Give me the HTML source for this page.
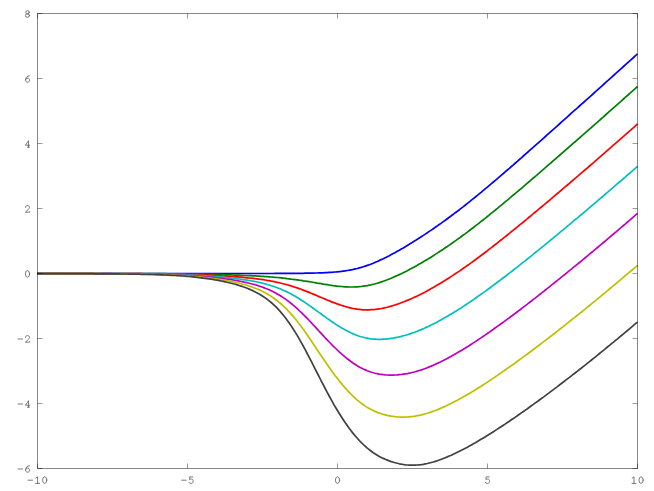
<!DOCTYPE html>
<html><head><meta charset="utf-8"><title>plot</title>
<style>
html,body{margin:0;padding:0;background:#fff;}
svg{display:block;}
</style></head>
<body>
<svg width="654" height="491" viewBox="0 0 654 491">
<rect width="654" height="491" fill="#fff"/>
<defs><clipPath id="cp"><rect x="37" y="13" width="601" height="456"/></clipPath></defs>
<g fill="none" stroke-width="1.7" stroke-linejoin="round" clip-path="url(#cp)">
<path d="M37.0 273.5 L39.0 273.5 L41.0 273.5 L43.0 273.5 L45.0 273.5 L47.0 273.5 L49.0 273.5 L51.0 273.5 L53.0 273.5 L55.0 273.5 L57.0 273.5 L59.0 273.5 L61.0 273.5 L63.0 273.5 L65.0 273.5 L67.0 273.5 L69.0 273.5 L71.0 273.5 L73.0 273.5 L75.0 273.5 L77.0 273.5 L79.0 273.5 L81.0 273.5 L83.0 273.5 L85.0 273.5 L87.0 273.5 L89.0 273.5 L91.0 273.5 L93.0 273.5 L95.0 273.5 L97.1 273.5 L99.1 273.5 L101.1 273.5 L103.1 273.5 L105.1 273.5 L107.1 273.5 L109.1 273.5 L111.1 273.5 L113.1 273.5 L115.1 273.5 L117.1 273.5 L119.1 273.5 L121.1 273.5 L123.1 273.5 L125.1 273.5 L127.1 273.5 L129.1 273.5 L131.1 273.5 L133.1 273.5 L135.1 273.5 L137.1 273.5 L139.1 273.5 L141.1 273.5 L143.1 273.5 L145.1 273.5 L147.1 273.5 L149.1 273.5 L151.1 273.5 L153.1 273.5 L155.1 273.5 L157.1 273.5 L159.1 273.5 L161.1 273.5 L163.1 273.5 L165.1 273.5 L167.1 273.5 L169.1 273.5 L171.1 273.5 L173.1 273.5 L175.1 273.5 L177.1 273.5 L179.1 273.5 L181.1 273.5 L183.1 273.5 L185.1 273.5 L187.1 273.5 L189.1 273.5 L191.1 273.5 L193.1 273.5 L195.1 273.5 L197.1 273.5 L199.1 273.5 L201.1 273.5 L203.1 273.5 L205.1 273.5 L207.1 273.5 L209.1 273.5 L211.1 273.5 L213.1 273.5 L215.1 273.5 L217.2 273.5 L219.2 273.5 L221.2 273.5 L223.2 273.5 L225.2 273.5 L227.2 273.5 L229.2 273.5 L231.2 273.5 L233.2 273.5 L235.2 273.5 L237.2 273.5 L239.2 273.5 L241.2 273.5 L243.2 273.5 L245.2 273.5 L247.2 273.5 L249.2 273.5 L251.2 273.5 L253.2 273.5 L255.2 273.5 L257.2 273.5 L259.2 273.5 L261.2 273.5 L263.2 273.5 L265.2 273.5 L267.2 273.5 L269.2 273.5 L271.2 273.5 L273.2 273.5 L275.2 273.4 L277.2 273.4 L279.2 273.4 L281.2 273.4 L283.2 273.4 L285.2 273.4 L287.2 273.4 L289.2 273.4 L291.2 273.4 L293.2 273.4 L295.2 273.4 L297.2 273.3 L299.2 273.3 L301.2 273.3 L303.2 273.3 L305.2 273.2 L307.2 273.2 L309.2 273.2 L311.2 273.1 L313.2 273.1 L315.2 273.0 L317.2 273.0 L319.2 272.9 L321.2 272.8 L323.2 272.8 L325.2 272.7 L327.2 272.6 L329.2 272.4 L331.2 272.3 L333.2 272.2 L335.2 272.0 L337.3 271.8 L339.3 271.6 L341.3 271.4 L343.3 271.1 L345.3 270.8 L347.3 270.5 L349.3 270.2 L351.3 269.8 L353.3 269.4 L355.3 268.9 L357.3 268.5 L359.3 267.9 L361.3 267.4 L363.3 266.8 L365.3 266.1 L367.3 265.4 L369.3 264.7 L371.3 264.0 L373.3 263.2 L375.3 262.3 L377.3 261.5 L379.3 260.6 L381.3 259.6 L383.3 258.7 L385.3 257.7 L387.3 256.7 L389.3 255.7 L391.3 254.6 L393.3 253.5 L395.3 252.4 L397.3 251.3 L399.3 250.2 L401.3 249.0 L403.3 247.9 L405.3 246.7 L407.3 245.5 L409.3 244.3 L411.3 243.1 L413.3 241.8 L415.3 240.6 L417.3 239.3 L419.3 238.0 L421.3 236.7 L423.3 235.4 L425.3 234.1 L427.3 232.8 L429.3 231.4 L431.3 230.1 L433.3 228.7 L435.3 227.3 L437.3 225.9 L439.3 224.5 L441.3 223.1 L443.3 221.6 L445.3 220.2 L447.3 218.7 L449.3 217.2 L451.3 215.8 L453.3 214.3 L455.3 212.7 L457.4 211.2 L459.4 209.7 L461.4 208.1 L463.4 206.6 L465.4 205.0 L467.4 203.4 L469.4 201.8 L471.4 200.2 L473.4 198.6 L475.4 197.0 L477.4 195.4 L479.4 193.7 L481.4 192.1 L483.4 190.4 L485.4 188.7 L487.4 187.1 L489.4 185.4 L491.4 183.7 L493.4 182.0 L495.4 180.3 L497.4 178.6 L499.4 176.9 L501.4 175.2 L503.4 173.5 L505.4 171.7 L507.4 170.0 L509.4 168.3 L511.4 166.5 L513.4 164.8 L515.4 163.0 L517.4 161.3 L519.4 159.5 L521.4 157.8 L523.4 156.0 L525.4 154.2 L527.4 152.5 L529.4 150.7 L531.4 148.9 L533.4 147.2 L535.4 145.4 L537.4 143.6 L539.4 141.8 L541.4 140.1 L543.4 138.3 L545.4 136.5 L547.4 134.7 L549.4 132.9 L551.4 131.1 L553.4 129.3 L555.4 127.6 L557.4 125.8 L559.4 124.0 L561.4 122.2 L563.4 120.4 L565.4 118.6 L567.4 116.8 L569.4 115.0 L571.4 113.2 L573.4 111.4 L575.4 109.6 L577.5 107.8 L579.5 106.0 L581.5 104.2 L583.5 102.5 L585.5 100.7 L587.5 98.9 L589.5 97.1 L591.5 95.3 L593.5 93.5 L595.5 91.7 L597.5 89.9 L599.5 88.1 L601.5 86.3 L603.5 84.5 L605.5 82.7 L607.5 80.9 L609.5 79.1 L611.5 77.3 L613.5 75.5 L615.5 73.7 L617.5 71.9 L619.5 70.1 L621.5 68.3 L623.5 66.5 L625.5 64.7 L627.5 62.9 L629.5 61.1 L631.5 59.3 L633.5 57.5 L635.5 55.7 L637.5 53.9" stroke="#0000ff"/>
<path d="M37.0 273.5 L39.0 273.5 L41.0 273.5 L43.0 273.5 L45.0 273.5 L47.0 273.5 L49.0 273.5 L51.0 273.5 L53.0 273.5 L55.0 273.5 L57.0 273.5 L59.0 273.5 L61.0 273.5 L63.0 273.5 L65.0 273.5 L67.0 273.5 L69.0 273.5 L71.0 273.5 L73.0 273.5 L75.0 273.5 L77.0 273.5 L79.0 273.5 L81.0 273.5 L83.0 273.5 L85.0 273.5 L87.0 273.5 L89.0 273.5 L91.0 273.5 L93.0 273.5 L95.0 273.5 L97.1 273.5 L99.1 273.5 L101.1 273.5 L103.1 273.6 L105.1 273.6 L107.1 273.6 L109.1 273.6 L111.1 273.6 L113.1 273.6 L115.1 273.6 L117.1 273.6 L119.1 273.6 L121.1 273.6 L123.1 273.6 L125.1 273.6 L127.1 273.6 L129.1 273.6 L131.1 273.6 L133.1 273.6 L135.1 273.6 L137.1 273.6 L139.1 273.6 L141.1 273.6 L143.1 273.6 L145.1 273.6 L147.1 273.6 L149.1 273.7 L151.1 273.7 L153.1 273.7 L155.1 273.7 L157.1 273.7 L159.1 273.7 L161.1 273.7 L163.1 273.7 L165.1 273.7 L167.1 273.8 L169.1 273.8 L171.1 273.8 L173.1 273.8 L175.1 273.8 L177.1 273.8 L179.1 273.9 L181.1 273.9 L183.1 273.9 L185.1 273.9 L187.1 274.0 L189.1 274.0 L191.1 274.0 L193.1 274.0 L195.1 274.1 L197.1 274.1 L199.1 274.1 L201.1 274.2 L203.1 274.2 L205.1 274.3 L207.1 274.3 L209.1 274.3 L211.1 274.4 L213.1 274.4 L215.1 274.5 L217.2 274.5 L219.2 274.6 L221.2 274.6 L223.2 274.7 L225.2 274.8 L227.2 274.8 L229.2 274.9 L231.2 274.9 L233.2 275.0 L235.2 275.1 L237.2 275.2 L239.2 275.2 L241.2 275.3 L243.2 275.4 L245.2 275.5 L247.2 275.6 L249.2 275.6 L251.2 275.7 L253.2 275.8 L255.2 275.9 L257.2 276.1 L259.2 276.2 L261.2 276.3 L263.2 276.4 L265.2 276.6 L267.2 276.7 L269.2 276.8 L271.2 277.0 L273.2 277.2 L275.2 277.3 L277.2 277.5 L279.2 277.7 L281.2 277.9 L283.2 278.1 L285.2 278.3 L287.2 278.6 L289.2 278.8 L291.2 279.1 L293.2 279.3 L295.2 279.6 L297.2 279.9 L299.2 280.2 L301.2 280.4 L303.2 280.8 L305.2 281.1 L307.2 281.4 L309.2 281.7 L311.2 282.0 L313.2 282.4 L315.2 282.7 L317.2 283.1 L319.2 283.4 L321.2 283.7 L323.2 284.1 L325.2 284.4 L327.2 284.7 L329.2 285.0 L331.2 285.3 L333.2 285.6 L335.2 285.8 L337.3 286.1 L339.3 286.3 L341.3 286.5 L343.3 286.7 L345.3 286.8 L347.3 286.9 L349.3 287.0 L351.3 287.0 L353.3 287.0 L355.3 286.9 L357.3 286.8 L359.3 286.7 L361.3 286.5 L363.3 286.2 L365.3 285.9 L367.3 285.6 L369.3 285.2 L371.3 284.8 L373.3 284.3 L375.3 283.8 L377.3 283.2 L379.3 282.6 L381.3 281.9 L383.3 281.2 L385.3 280.5 L387.3 279.8 L389.3 279.0 L391.3 278.2 L393.3 277.3 L395.3 276.4 L397.3 275.5 L399.3 274.6 L401.3 273.7 L403.3 272.7 L405.3 271.7 L407.3 270.7 L409.3 269.6 L411.3 268.6 L413.3 267.5 L415.3 266.4 L417.3 265.3 L419.3 264.1 L421.3 263.0 L423.3 261.8 L425.3 260.6 L427.3 259.4 L429.3 258.2 L431.3 257.0 L433.3 255.7 L435.3 254.4 L437.3 253.1 L439.3 251.8 L441.3 250.5 L443.3 249.2 L445.3 247.8 L447.3 246.5 L449.3 245.1 L451.3 243.7 L453.3 242.3 L455.3 240.9 L457.4 239.4 L459.4 238.0 L461.4 236.5 L463.4 235.0 L465.4 233.6 L467.4 232.1 L469.4 230.5 L471.4 229.0 L473.4 227.5 L475.4 225.9 L477.4 224.4 L479.4 222.8 L481.4 221.2 L483.4 219.7 L485.4 218.1 L487.4 216.5 L489.4 214.9 L491.4 213.2 L493.4 211.6 L495.4 210.0 L497.4 208.4 L499.4 206.7 L501.4 205.1 L503.4 203.4 L505.4 201.7 L507.4 200.1 L509.4 198.4 L511.4 196.7 L513.4 195.0 L515.4 193.4 L517.4 191.7 L519.4 190.0 L521.4 188.3 L523.4 186.6 L525.4 184.9 L527.4 183.2 L529.4 181.5 L531.4 179.7 L533.4 178.0 L535.4 176.3 L537.4 174.6 L539.4 172.9 L541.4 171.1 L543.4 169.4 L545.4 167.7 L547.4 165.9 L549.4 164.2 L551.4 162.5 L553.4 160.7 L555.4 159.0 L557.4 157.2 L559.4 155.5 L561.4 153.7 L563.4 152.0 L565.4 150.2 L567.4 148.5 L569.4 146.7 L571.4 145.0 L573.4 143.2 L575.4 141.5 L577.5 139.7 L579.5 138.0 L581.5 136.2 L583.5 134.4 L585.5 132.7 L587.5 130.9 L589.5 129.1 L591.5 127.4 L593.5 125.6 L595.5 123.8 L597.5 122.1 L599.5 120.3 L601.5 118.5 L603.5 116.8 L605.5 115.0 L607.5 113.2 L609.5 111.4 L611.5 109.7 L613.5 107.9 L615.5 106.1 L617.5 104.3 L619.5 102.6 L621.5 100.8 L623.5 99.0 L625.5 97.2 L627.5 95.5 L629.5 93.7 L631.5 91.9 L633.5 90.1 L635.5 88.3 L637.5 86.5" stroke="#008000"/>
<path d="M37.0 273.5 L39.0 273.5 L41.0 273.5 L43.0 273.5 L45.0 273.5 L47.0 273.5 L49.0 273.5 L51.0 273.5 L53.0 273.5 L55.0 273.5 L57.0 273.5 L59.0 273.5 L61.0 273.5 L63.0 273.5 L65.0 273.5 L67.0 273.6 L69.0 273.6 L71.0 273.6 L73.0 273.6 L75.0 273.6 L77.0 273.6 L79.0 273.6 L81.0 273.6 L83.0 273.6 L85.0 273.6 L87.0 273.6 L89.0 273.6 L91.0 273.6 L93.0 273.6 L95.0 273.6 L97.1 273.6 L99.1 273.6 L101.1 273.6 L103.1 273.6 L105.1 273.6 L107.1 273.6 L109.1 273.6 L111.1 273.6 L113.1 273.6 L115.1 273.6 L117.1 273.6 L119.1 273.6 L121.1 273.7 L123.1 273.7 L125.1 273.7 L127.1 273.7 L129.1 273.7 L131.1 273.7 L133.1 273.7 L135.1 273.7 L137.1 273.7 L139.1 273.7 L141.1 273.7 L143.1 273.8 L145.1 273.8 L147.1 273.8 L149.1 273.8 L151.1 273.8 L153.1 273.8 L155.1 273.9 L157.1 273.9 L159.1 273.9 L161.1 273.9 L163.1 274.0 L165.1 274.0 L167.1 274.0 L169.1 274.0 L171.1 274.1 L173.1 274.1 L175.1 274.2 L177.1 274.2 L179.1 274.2 L181.1 274.3 L183.1 274.3 L185.1 274.4 L187.1 274.4 L189.1 274.5 L191.1 274.5 L193.1 274.6 L195.1 274.7 L197.1 274.7 L199.1 274.8 L201.1 274.9 L203.1 275.0 L205.1 275.0 L207.1 275.1 L209.1 275.2 L211.1 275.3 L213.1 275.4 L215.1 275.5 L217.2 275.6 L219.2 275.7 L221.2 275.8 L223.2 276.0 L225.2 276.1 L227.2 276.2 L229.2 276.3 L231.2 276.5 L233.2 276.6 L235.2 276.8 L237.2 276.9 L239.2 277.1 L241.2 277.2 L243.2 277.4 L245.2 277.6 L247.2 277.8 L249.2 278.0 L251.2 278.2 L253.2 278.4 L255.2 278.7 L257.2 278.9 L259.2 279.2 L261.2 279.4 L263.2 279.7 L265.2 280.0 L267.2 280.4 L269.2 280.7 L271.2 281.1 L273.2 281.4 L275.2 281.9 L277.2 282.3 L279.2 282.7 L281.2 283.2 L283.2 283.7 L285.2 284.2 L287.2 284.8 L289.2 285.4 L291.2 286.0 L293.2 286.6 L295.2 287.2 L297.2 287.9 L299.2 288.6 L301.2 289.3 L303.2 290.1 L305.2 290.9 L307.2 291.6 L309.2 292.4 L311.2 293.3 L313.2 294.1 L315.2 294.9 L317.2 295.8 L319.2 296.6 L321.2 297.5 L323.2 298.3 L325.2 299.1 L327.2 300.0 L329.2 300.8 L331.2 301.6 L333.2 302.4 L335.2 303.1 L337.3 303.9 L339.3 304.6 L341.3 305.3 L343.3 305.9 L345.3 306.5 L347.3 307.1 L349.3 307.6 L351.3 308.1 L353.3 308.5 L355.3 308.8 L357.3 309.2 L359.3 309.4 L361.3 309.6 L363.3 309.8 L365.3 309.8 L367.3 309.9 L369.3 309.8 L371.3 309.7 L373.3 309.6 L375.3 309.4 L377.3 309.1 L379.3 308.8 L381.3 308.5 L383.3 308.1 L385.3 307.7 L387.3 307.2 L389.3 306.6 L391.3 306.1 L393.3 305.5 L395.3 304.9 L397.3 304.2 L399.3 303.5 L401.3 302.8 L403.3 302.0 L405.3 301.2 L407.3 300.4 L409.3 299.6 L411.3 298.7 L413.3 297.8 L415.3 296.9 L417.3 295.9 L419.3 294.9 L421.3 293.9 L423.3 292.9 L425.3 291.9 L427.3 290.8 L429.3 289.7 L431.3 288.6 L433.3 287.5 L435.3 286.3 L437.3 285.1 L439.3 283.9 L441.3 282.7 L443.3 281.5 L445.3 280.3 L447.3 279.0 L449.3 277.7 L451.3 276.4 L453.3 275.1 L455.3 273.8 L457.4 272.4 L459.4 271.1 L461.4 269.7 L463.4 268.3 L465.4 266.9 L467.4 265.5 L469.4 264.1 L471.4 262.6 L473.4 261.2 L475.4 259.7 L477.4 258.2 L479.4 256.7 L481.4 255.2 L483.4 253.7 L485.4 252.2 L487.4 250.7 L489.4 249.1 L491.4 247.6 L493.4 246.0 L495.4 244.5 L497.4 242.9 L499.4 241.3 L501.4 239.8 L503.4 238.2 L505.4 236.6 L507.4 235.0 L509.4 233.4 L511.4 231.7 L513.4 230.1 L515.4 228.5 L517.4 226.9 L519.4 225.2 L521.4 223.6 L523.4 222.0 L525.4 220.3 L527.4 218.7 L529.4 217.0 L531.4 215.3 L533.4 213.7 L535.4 212.0 L537.4 210.4 L539.4 208.7 L541.4 207.0 L543.4 205.3 L545.4 203.6 L547.4 202.0 L549.4 200.3 L551.4 198.6 L553.4 196.9 L555.4 195.2 L557.4 193.5 L559.4 191.8 L561.4 190.1 L563.4 188.4 L565.4 186.7 L567.4 185.0 L569.4 183.3 L571.4 181.5 L573.4 179.8 L575.4 178.1 L577.5 176.4 L579.5 174.7 L581.5 172.9 L583.5 171.2 L585.5 169.5 L587.5 167.8 L589.5 166.0 L591.5 164.3 L593.5 162.6 L595.5 160.8 L597.5 159.1 L599.5 157.3 L601.5 155.6 L603.5 153.9 L605.5 152.1 L607.5 150.4 L609.5 148.6 L611.5 146.9 L613.5 145.1 L615.5 143.4 L617.5 141.6 L619.5 139.9 L621.5 138.1 L623.5 136.4 L625.5 134.6 L627.5 132.8 L629.5 131.1 L631.5 129.3 L633.5 127.6 L635.5 125.8 L637.5 124.0" stroke="#ff0000"/>
<path d="M37.0 273.5 L39.0 273.5 L41.0 273.5 L43.0 273.6 L45.0 273.6 L47.0 273.6 L49.0 273.6 L51.0 273.6 L53.0 273.6 L55.0 273.6 L57.0 273.6 L59.0 273.6 L61.0 273.6 L63.0 273.6 L65.0 273.6 L67.0 273.6 L69.0 273.6 L71.0 273.6 L73.0 273.6 L75.0 273.6 L77.0 273.6 L79.0 273.6 L81.0 273.6 L83.0 273.6 L85.0 273.6 L87.0 273.6 L89.0 273.6 L91.0 273.6 L93.0 273.6 L95.0 273.6 L97.1 273.6 L99.1 273.6 L101.1 273.6 L103.1 273.7 L105.1 273.7 L107.1 273.7 L109.1 273.7 L111.1 273.7 L113.1 273.7 L115.1 273.7 L117.1 273.7 L119.1 273.7 L121.1 273.7 L123.1 273.7 L125.1 273.8 L127.1 273.8 L129.1 273.8 L131.1 273.8 L133.1 273.8 L135.1 273.8 L137.1 273.8 L139.1 273.9 L141.1 273.9 L143.1 273.9 L145.1 273.9 L147.1 273.9 L149.1 274.0 L151.1 274.0 L153.1 274.0 L155.1 274.0 L157.1 274.1 L159.1 274.1 L161.1 274.2 L163.1 274.2 L165.1 274.2 L167.1 274.3 L169.1 274.3 L171.1 274.4 L173.1 274.4 L175.1 274.5 L177.1 274.5 L179.1 274.6 L181.1 274.7 L183.1 274.7 L185.1 274.8 L187.1 274.9 L189.1 275.0 L191.1 275.1 L193.1 275.2 L195.1 275.3 L197.1 275.4 L199.1 275.5 L201.1 275.6 L203.1 275.7 L205.1 275.8 L207.1 276.0 L209.1 276.1 L211.1 276.2 L213.1 276.4 L215.1 276.6 L217.2 276.7 L219.2 276.9 L221.2 277.1 L223.2 277.2 L225.2 277.4 L227.2 277.6 L229.2 277.8 L231.2 278.1 L233.2 278.3 L235.2 278.5 L237.2 278.8 L239.2 279.0 L241.2 279.3 L243.2 279.6 L245.2 279.9 L247.2 280.2 L249.2 280.5 L251.2 280.9 L253.2 281.2 L255.2 281.6 L257.2 282.0 L259.2 282.4 L261.2 282.9 L263.2 283.4 L265.2 283.9 L267.2 284.5 L269.2 285.0 L271.2 285.7 L273.2 286.3 L275.2 287.0 L277.2 287.7 L279.2 288.5 L281.2 289.3 L283.2 290.2 L285.2 291.1 L287.2 292.0 L289.2 293.0 L291.2 294.1 L293.2 295.2 L295.2 296.3 L297.2 297.5 L299.2 298.7 L301.2 300.0 L303.2 301.3 L305.2 302.6 L307.2 304.0 L309.2 305.4 L311.2 306.8 L313.2 308.2 L315.2 309.7 L317.2 311.1 L319.2 312.6 L321.2 314.0 L323.2 315.5 L325.2 316.9 L327.2 318.4 L329.2 319.8 L331.2 321.2 L333.2 322.5 L335.2 323.9 L337.3 325.2 L339.3 326.4 L341.3 327.7 L343.3 328.8 L345.3 330.0 L347.3 331.0 L349.3 332.0 L351.3 333.0 L353.3 333.9 L355.3 334.7 L357.3 335.5 L359.3 336.2 L361.3 336.8 L363.3 337.3 L365.3 337.8 L367.3 338.2 L369.3 338.6 L371.3 338.9 L373.3 339.1 L375.3 339.2 L377.3 339.3 L379.3 339.3 L381.3 339.3 L383.3 339.2 L385.3 339.1 L387.3 338.9 L389.3 338.7 L391.3 338.4 L393.3 338.1 L395.3 337.7 L397.3 337.3 L399.3 336.9 L401.3 336.4 L403.3 335.8 L405.3 335.3 L407.3 334.7 L409.3 334.1 L411.3 333.4 L413.3 332.7 L415.3 332.0 L417.3 331.2 L419.3 330.4 L421.3 329.6 L423.3 328.7 L425.3 327.8 L427.3 326.9 L429.3 325.9 L431.3 325.0 L433.3 324.0 L435.3 322.9 L437.3 321.9 L439.3 320.8 L441.3 319.7 L443.3 318.6 L445.3 317.5 L447.3 316.3 L449.3 315.1 L451.3 313.9 L453.3 312.7 L455.3 311.5 L457.4 310.2 L459.4 308.9 L461.4 307.7 L463.4 306.4 L465.4 305.0 L467.4 303.7 L469.4 302.4 L471.4 301.0 L473.4 299.6 L475.4 298.2 L477.4 296.8 L479.4 295.4 L481.4 294.0 L483.4 292.6 L485.4 291.1 L487.4 289.7 L489.4 288.2 L491.4 286.7 L493.4 285.3 L495.4 283.8 L497.4 282.3 L499.4 280.8 L501.4 279.2 L503.4 277.7 L505.4 276.2 L507.4 274.7 L509.4 273.1 L511.4 271.6 L513.4 270.0 L515.4 268.4 L517.4 266.9 L519.4 265.3 L521.4 263.7 L523.4 262.1 L525.4 260.6 L527.4 259.0 L529.4 257.4 L531.4 255.8 L533.4 254.2 L535.4 252.5 L537.4 250.9 L539.4 249.3 L541.4 247.7 L543.4 246.1 L545.4 244.4 L547.4 242.8 L549.4 241.1 L551.4 239.5 L553.4 237.9 L555.4 236.2 L557.4 234.6 L559.4 232.9 L561.4 231.2 L563.4 229.6 L565.4 227.9 L567.4 226.2 L569.4 224.6 L571.4 222.9 L573.4 221.2 L575.4 219.5 L577.5 217.9 L579.5 216.2 L581.5 214.5 L583.5 212.8 L585.5 211.1 L587.5 209.4 L589.5 207.7 L591.5 206.0 L593.5 204.3 L595.5 202.6 L597.5 200.9 L599.5 199.2 L601.5 197.5 L603.5 195.8 L605.5 194.0 L607.5 192.3 L609.5 190.6 L611.5 188.9 L613.5 187.2 L615.5 185.4 L617.5 183.7 L619.5 182.0 L621.5 180.3 L623.5 178.5 L625.5 176.8 L627.5 175.0 L629.5 173.3 L631.5 171.6 L633.5 169.8 L635.5 168.1 L637.5 166.3" stroke="#00bfbf"/>
<path d="M37.0 273.6 L39.0 273.6 L41.0 273.6 L43.0 273.6 L45.0 273.6 L47.0 273.6 L49.0 273.6 L51.0 273.6 L53.0 273.6 L55.0 273.6 L57.0 273.6 L59.0 273.6 L61.0 273.6 L63.0 273.6 L65.0 273.6 L67.0 273.6 L69.0 273.6 L71.0 273.6 L73.0 273.6 L75.0 273.6 L77.0 273.6 L79.0 273.6 L81.0 273.6 L83.0 273.6 L85.0 273.6 L87.0 273.6 L89.0 273.7 L91.0 273.7 L93.0 273.7 L95.0 273.7 L97.1 273.7 L99.1 273.7 L101.1 273.7 L103.1 273.7 L105.1 273.7 L107.1 273.7 L109.1 273.7 L111.1 273.7 L113.1 273.8 L115.1 273.8 L117.1 273.8 L119.1 273.8 L121.1 273.8 L123.1 273.8 L125.1 273.8 L127.1 273.9 L129.1 273.9 L131.1 273.9 L133.1 273.9 L135.1 273.9 L137.1 274.0 L139.1 274.0 L141.1 274.0 L143.1 274.0 L145.1 274.1 L147.1 274.1 L149.1 274.1 L151.1 274.2 L153.1 274.2 L155.1 274.2 L157.1 274.3 L159.1 274.3 L161.1 274.4 L163.1 274.4 L165.1 274.5 L167.1 274.5 L169.1 274.6 L171.1 274.7 L173.1 274.7 L175.1 274.8 L177.1 274.9 L179.1 275.0 L181.1 275.1 L183.1 275.2 L185.1 275.3 L187.1 275.4 L189.1 275.5 L191.1 275.6 L193.1 275.7 L195.1 275.9 L197.1 276.0 L199.1 276.2 L201.1 276.3 L203.1 276.5 L205.1 276.7 L207.1 276.8 L209.1 277.0 L211.1 277.2 L213.1 277.4 L215.1 277.6 L217.2 277.9 L219.2 278.1 L221.2 278.3 L223.2 278.6 L225.2 278.9 L227.2 279.1 L229.2 279.4 L231.2 279.7 L233.2 280.0 L235.2 280.4 L237.2 280.7 L239.2 281.1 L241.2 281.5 L243.2 281.9 L245.2 282.3 L247.2 282.7 L249.2 283.2 L251.2 283.7 L253.2 284.2 L255.2 284.8 L257.2 285.4 L259.2 286.0 L261.2 286.7 L263.2 287.4 L265.2 288.2 L267.2 289.0 L269.2 289.8 L271.2 290.8 L273.2 291.7 L275.2 292.8 L277.2 293.9 L279.2 295.0 L281.2 296.3 L283.2 297.6 L285.2 298.9 L287.2 300.4 L289.2 301.9 L291.2 303.5 L293.2 305.1 L295.2 306.8 L297.2 308.6 L299.2 310.5 L301.2 312.4 L303.2 314.3 L305.2 316.4 L307.2 318.4 L309.2 320.5 L311.2 322.6 L313.2 324.8 L315.2 326.9 L317.2 329.1 L319.2 331.3 L321.2 333.4 L323.2 335.6 L325.2 337.8 L327.2 339.9 L329.2 342.0 L331.2 344.0 L333.2 346.1 L335.2 348.0 L337.3 350.0 L339.3 351.9 L341.3 353.7 L343.3 355.4 L345.3 357.1 L347.3 358.8 L349.3 360.3 L351.3 361.8 L353.3 363.2 L355.3 364.5 L357.3 365.8 L359.3 366.9 L361.3 368.0 L363.3 369.0 L365.3 369.9 L367.3 370.8 L369.3 371.5 L371.3 372.2 L373.3 372.8 L375.3 373.3 L377.3 373.7 L379.3 374.1 L381.3 374.4 L383.3 374.7 L385.3 374.9 L387.3 375.0 L389.3 375.1 L391.3 375.1 L393.3 375.1 L395.3 375.0 L397.3 374.9 L399.3 374.7 L401.3 374.5 L403.3 374.2 L405.3 373.9 L407.3 373.6 L409.3 373.2 L411.3 372.7 L413.3 372.2 L415.3 371.7 L417.3 371.1 L419.3 370.5 L421.3 369.9 L423.3 369.2 L425.3 368.5 L427.3 367.7 L429.3 366.9 L431.3 366.1 L433.3 365.2 L435.3 364.3 L437.3 363.4 L439.3 362.5 L441.3 361.5 L443.3 360.5 L445.3 359.4 L447.3 358.4 L449.3 357.3 L451.3 356.2 L453.3 355.1 L455.3 354.0 L457.4 352.8 L459.4 351.6 L461.4 350.4 L463.4 349.2 L465.4 348.0 L467.4 346.7 L469.4 345.5 L471.4 344.2 L473.4 342.9 L475.4 341.6 L477.4 340.3 L479.4 338.9 L481.4 337.6 L483.4 336.2 L485.4 334.9 L487.4 333.5 L489.4 332.1 L491.4 330.7 L493.4 329.3 L495.4 327.8 L497.4 326.4 L499.4 325.0 L501.4 323.5 L503.4 322.1 L505.4 320.6 L507.4 319.1 L509.4 317.7 L511.4 316.2 L513.4 314.7 L515.4 313.2 L517.4 311.7 L519.4 310.2 L521.4 308.7 L523.4 307.1 L525.4 305.6 L527.4 304.1 L529.4 302.5 L531.4 301.0 L533.4 299.4 L535.4 297.9 L537.4 296.3 L539.4 294.7 L541.4 293.2 L543.4 291.6 L545.4 290.0 L547.4 288.4 L549.4 286.8 L551.4 285.2 L553.4 283.6 L555.4 282.0 L557.4 280.4 L559.4 278.8 L561.4 277.2 L563.4 275.6 L565.4 274.0 L567.4 272.3 L569.4 270.7 L571.4 269.1 L573.4 267.4 L575.4 265.8 L577.5 264.1 L579.5 262.5 L581.5 260.8 L583.5 259.2 L585.5 257.5 L587.5 255.9 L589.5 254.2 L591.5 252.5 L593.5 250.9 L595.5 249.2 L597.5 247.5 L599.5 245.8 L601.5 244.2 L603.5 242.5 L605.5 240.8 L607.5 239.1 L609.5 237.4 L611.5 235.7 L613.5 234.0 L615.5 232.3 L617.5 230.6 L619.5 228.9 L621.5 227.2 L623.5 225.5 L625.5 223.8 L627.5 222.0 L629.5 220.3 L631.5 218.6 L633.5 216.9 L635.5 215.2 L637.5 213.4" stroke="#bf00bf"/>
<path d="M37.0 273.6 L39.0 273.6 L41.0 273.6 L43.0 273.6 L45.0 273.6 L47.0 273.6 L49.0 273.6 L51.0 273.6 L53.0 273.6 L55.0 273.6 L57.0 273.6 L59.0 273.6 L61.0 273.6 L63.0 273.6 L65.0 273.6 L67.0 273.6 L69.0 273.6 L71.0 273.6 L73.0 273.6 L75.0 273.6 L77.0 273.7 L79.0 273.7 L81.0 273.7 L83.0 273.7 L85.0 273.7 L87.0 273.7 L89.0 273.7 L91.0 273.7 L93.0 273.7 L95.0 273.7 L97.1 273.7 L99.1 273.7 L101.1 273.7 L103.1 273.8 L105.1 273.8 L107.1 273.8 L109.1 273.8 L111.1 273.8 L113.1 273.8 L115.1 273.8 L117.1 273.8 L119.1 273.9 L121.1 273.9 L123.1 273.9 L125.1 273.9 L127.1 273.9 L129.1 274.0 L131.1 274.0 L133.1 274.0 L135.1 274.0 L137.1 274.1 L139.1 274.1 L141.1 274.1 L143.1 274.2 L145.1 274.2 L147.1 274.2 L149.1 274.3 L151.1 274.3 L153.1 274.4 L155.1 274.4 L157.1 274.5 L159.1 274.5 L161.1 274.6 L163.1 274.7 L165.1 274.7 L167.1 274.8 L169.1 274.9 L171.1 275.0 L173.1 275.1 L175.1 275.2 L177.1 275.3 L179.1 275.4 L181.1 275.5 L183.1 275.6 L185.1 275.7 L187.1 275.9 L189.1 276.0 L191.1 276.2 L193.1 276.3 L195.1 276.5 L197.1 276.7 L199.1 276.9 L201.1 277.1 L203.1 277.3 L205.1 277.5 L207.1 277.7 L209.1 278.0 L211.1 278.2 L213.1 278.5 L215.1 278.7 L217.2 279.0 L219.2 279.3 L221.2 279.6 L223.2 280.0 L225.2 280.3 L227.2 280.7 L229.2 281.0 L231.2 281.4 L233.2 281.9 L235.2 282.3 L237.2 282.7 L239.2 283.2 L241.2 283.7 L243.2 284.3 L245.2 284.8 L247.2 285.4 L249.2 286.1 L251.2 286.7 L253.2 287.5 L255.2 288.2 L257.2 289.0 L259.2 289.9 L261.2 290.8 L263.2 291.8 L265.2 292.8 L267.2 293.9 L269.2 295.1 L271.2 296.4 L273.2 297.7 L275.2 299.2 L277.2 300.7 L279.2 302.3 L281.2 304.0 L283.2 305.8 L285.2 307.7 L287.2 309.7 L289.2 311.9 L291.2 314.1 L293.2 316.4 L295.2 318.8 L297.2 321.3 L299.2 323.9 L301.2 326.5 L303.2 329.3 L305.2 332.1 L307.2 334.9 L309.2 337.8 L311.2 340.8 L313.2 343.7 L315.2 346.7 L317.2 349.7 L319.2 352.7 L321.2 355.7 L323.2 358.7 L325.2 361.6 L327.2 364.5 L329.2 367.4 L331.2 370.2 L333.2 373.0 L335.2 375.7 L337.3 378.3 L339.3 380.9 L341.3 383.4 L343.3 385.8 L345.3 388.1 L347.3 390.3 L349.3 392.4 L351.3 394.5 L353.3 396.4 L355.3 398.3 L357.3 400.1 L359.3 401.7 L361.3 403.3 L363.3 404.7 L365.3 406.1 L367.3 407.4 L369.3 408.5 L371.3 409.6 L373.3 410.6 L375.3 411.5 L377.3 412.4 L379.3 413.1 L381.3 413.8 L383.3 414.4 L385.3 414.9 L387.3 415.4 L389.3 415.8 L391.3 416.2 L393.3 416.4 L395.3 416.7 L397.3 416.9 L399.3 417.0 L401.3 417.1 L403.3 417.1 L405.3 417.1 L407.3 417.0 L409.3 416.8 L411.3 416.6 L413.3 416.4 L415.3 416.1 L417.3 415.7 L419.3 415.3 L421.3 414.9 L423.3 414.4 L425.3 413.8 L427.3 413.2 L429.3 412.6 L431.3 411.9 L433.3 411.2 L435.3 410.5 L437.3 409.7 L439.3 408.9 L441.3 408.0 L443.3 407.1 L445.3 406.2 L447.3 405.3 L449.3 404.3 L451.3 403.3 L453.3 402.3 L455.3 401.2 L457.4 400.2 L459.4 399.1 L461.4 398.0 L463.4 396.8 L465.4 395.7 L467.4 394.5 L469.4 393.4 L471.4 392.2 L473.4 391.0 L475.4 389.7 L477.4 388.5 L479.4 387.2 L481.4 386.0 L483.4 384.7 L485.4 383.4 L487.4 382.1 L489.4 380.8 L491.4 379.4 L493.4 378.1 L495.4 376.7 L497.4 375.4 L499.4 374.0 L501.4 372.6 L503.4 371.2 L505.4 369.8 L507.4 368.4 L509.4 367.0 L511.4 365.6 L513.4 364.2 L515.4 362.7 L517.4 361.3 L519.4 359.8 L521.4 358.4 L523.4 356.9 L525.4 355.4 L527.4 354.0 L529.4 352.5 L531.4 351.0 L533.4 349.5 L535.4 348.0 L537.4 346.5 L539.4 345.0 L541.4 343.4 L543.4 341.9 L545.4 340.4 L547.4 338.9 L549.4 337.3 L551.4 335.8 L553.4 334.2 L555.4 332.7 L557.4 331.1 L559.4 329.5 L561.4 328.0 L563.4 326.4 L565.4 324.8 L567.4 323.2 L569.4 321.6 L571.4 320.0 L573.4 318.4 L575.4 316.8 L577.5 315.2 L579.5 313.6 L581.5 312.0 L583.5 310.4 L585.5 308.8 L587.5 307.1 L589.5 305.5 L591.5 303.9 L593.5 302.2 L595.5 300.6 L597.5 298.9 L599.5 297.3 L601.5 295.6 L603.5 294.0 L605.5 292.3 L607.5 290.7 L609.5 289.0 L611.5 287.3 L613.5 285.6 L615.5 284.0 L617.5 282.3 L619.5 280.6 L621.5 278.9 L623.5 277.2 L625.5 275.5 L627.5 273.9 L629.5 272.2 L631.5 270.5 L633.5 268.8 L635.5 267.1 L637.5 265.3" stroke="#bfbf00"/>
<path d="M37.0 273.6 L39.0 273.6 L41.0 273.6 L43.0 273.6 L45.0 273.6 L47.0 273.6 L49.0 273.6 L51.0 273.6 L53.0 273.6 L55.0 273.6 L57.0 273.6 L59.0 273.6 L61.0 273.6 L63.0 273.6 L65.0 273.6 L67.0 273.7 L69.0 273.7 L71.0 273.7 L73.0 273.7 L75.0 273.7 L77.0 273.7 L79.0 273.7 L81.0 273.7 L83.0 273.7 L85.0 273.7 L87.0 273.7 L89.0 273.7 L91.0 273.7 L93.0 273.7 L95.0 273.8 L97.1 273.8 L99.1 273.8 L101.1 273.8 L103.1 273.8 L105.1 273.8 L107.1 273.8 L109.1 273.8 L111.1 273.9 L113.1 273.9 L115.1 273.9 L117.1 273.9 L119.1 273.9 L121.1 274.0 L123.1 274.0 L125.1 274.0 L127.1 274.0 L129.1 274.1 L131.1 274.1 L133.1 274.1 L135.1 274.1 L137.1 274.2 L139.1 274.2 L141.1 274.3 L143.1 274.3 L145.1 274.3 L147.1 274.4 L149.1 274.4 L151.1 274.5 L153.1 274.5 L155.1 274.6 L157.1 274.7 L159.1 274.7 L161.1 274.8 L163.1 274.9 L165.1 275.0 L167.1 275.1 L169.1 275.2 L171.1 275.3 L173.1 275.4 L175.1 275.5 L177.1 275.6 L179.1 275.7 L181.1 275.9 L183.1 276.0 L185.1 276.2 L187.1 276.4 L189.1 276.5 L191.1 276.7 L193.1 276.9 L195.1 277.1 L197.1 277.3 L199.1 277.6 L201.1 277.8 L203.1 278.1 L205.1 278.3 L207.1 278.6 L209.1 278.9 L211.1 279.2 L213.1 279.5 L215.1 279.9 L217.2 280.2 L219.2 280.6 L221.2 281.0 L223.2 281.4 L225.2 281.8 L227.2 282.3 L229.2 282.7 L231.2 283.2 L233.2 283.8 L235.2 284.3 L237.2 284.9 L239.2 285.5 L241.2 286.1 L243.2 286.8 L245.2 287.5 L247.2 288.3 L249.2 289.1 L251.2 290.0 L253.2 290.9 L255.2 291.9 L257.2 292.9 L259.2 294.0 L261.2 295.2 L263.2 296.5 L265.2 297.9 L267.2 299.3 L269.2 300.9 L271.2 302.5 L273.2 304.3 L275.2 306.2 L277.2 308.2 L279.2 310.3 L281.2 312.6 L283.2 315.0 L285.2 317.5 L287.2 320.2 L289.2 323.0 L291.2 325.9 L293.2 329.0 L295.2 332.1 L297.2 335.4 L299.2 338.9 L301.2 342.4 L303.2 346.0 L305.2 349.7 L307.2 353.5 L309.2 357.3 L311.2 361.2 L313.2 365.1 L315.2 369.1 L317.2 373.0 L319.2 376.9 L321.2 380.8 L323.2 384.7 L325.2 388.5 L327.2 392.3 L329.2 396.0 L331.2 399.7 L333.2 403.3 L335.2 406.8 L337.3 410.2 L339.3 413.5 L341.3 416.7 L343.3 419.8 L345.3 422.8 L347.3 425.6 L349.3 428.4 L351.3 431.1 L353.3 433.6 L355.3 436.0 L357.3 438.3 L359.3 440.5 L361.3 442.6 L363.3 444.5 L365.3 446.4 L367.3 448.1 L369.3 449.7 L371.3 451.2 L373.3 452.7 L375.3 454.0 L377.3 455.2 L379.3 456.4 L381.3 457.4 L383.3 458.4 L385.3 459.3 L387.3 460.1 L389.3 460.9 L391.3 461.6 L393.3 462.2 L395.3 462.8 L397.3 463.3 L399.3 463.8 L401.3 464.2 L403.3 464.5 L405.3 464.8 L407.3 465.0 L409.3 465.1 L411.3 465.2 L413.3 465.2 L415.3 465.1 L417.3 465.0 L419.3 464.8 L421.3 464.6 L423.3 464.3 L425.3 463.9 L427.3 463.5 L429.3 463.0 L431.3 462.5 L433.3 462.0 L435.3 461.4 L437.3 460.7 L439.3 460.0 L441.3 459.3 L443.3 458.5 L445.3 457.7 L447.3 456.9 L449.3 456.0 L451.3 455.2 L453.3 454.2 L455.3 453.3 L457.4 452.3 L459.4 451.3 L461.4 450.3 L463.4 449.3 L465.4 448.2 L467.4 447.2 L469.4 446.1 L471.4 444.9 L473.4 443.8 L475.4 442.7 L477.4 441.5 L479.4 440.3 L481.4 439.1 L483.4 437.9 L485.4 436.7 L487.4 435.5 L489.4 434.2 L491.4 433.0 L493.4 431.7 L495.4 430.4 L497.4 429.1 L499.4 427.8 L501.4 426.5 L503.4 425.2 L505.4 423.9 L507.4 422.5 L509.4 421.2 L511.4 419.8 L513.4 418.5 L515.4 417.1 L517.4 415.7 L519.4 414.3 L521.4 412.9 L523.4 411.5 L525.4 410.1 L527.4 408.7 L529.4 407.2 L531.4 405.8 L533.4 404.4 L535.4 402.9 L537.4 401.5 L539.4 400.0 L541.4 398.5 L543.4 397.1 L545.4 395.6 L547.4 394.1 L549.4 392.6 L551.4 391.1 L553.4 389.6 L555.4 388.1 L557.4 386.6 L559.4 385.0 L561.4 383.5 L563.4 382.0 L565.4 380.4 L567.4 378.9 L569.4 377.4 L571.4 375.8 L573.4 374.2 L575.4 372.7 L577.5 371.1 L579.5 369.5 L581.5 368.0 L583.5 366.4 L585.5 364.8 L587.5 363.2 L589.5 361.6 L591.5 360.0 L593.5 358.4 L595.5 356.8 L597.5 355.2 L599.5 353.5 L601.5 351.9 L603.5 350.3 L605.5 348.7 L607.5 347.0 L609.5 345.4 L611.5 343.7 L613.5 342.1 L615.5 340.4 L617.5 338.8 L619.5 337.1 L621.5 335.5 L623.5 333.8 L625.5 332.1 L627.5 330.5 L629.5 328.8 L631.5 327.1 L633.5 325.4 L635.5 323.7 L637.5 322.1" stroke="#404040"/>
</g>
<g fill="none" stroke="#000" stroke-opacity="0.47" stroke-width="1">
<rect x="37.5" y="13.5" width="600" height="455"/>
<g stroke-opacity="0.40">
<path d="M37.5 468.5 v-5 M37.5 13.5 v5"/>
<path d="M187.5 468.5 v-5 M187.5 13.5 v5"/>
<path d="M337.5 468.5 v-5 M337.5 13.5 v5"/>
<path d="M487.5 468.5 v-5 M487.5 13.5 v5"/>
<path d="M637.5 468.5 v-5 M637.5 13.5 v5"/>
<path d="M37.5 468.5 h5 M637.5 468.5 h-5"/>
<path d="M37.5 403.5 h5 M637.5 403.5 h-5"/>
<path d="M37.5 338.5 h5 M637.5 338.5 h-5"/>
<path d="M37.5 273.5 h5 M637.5 273.5 h-5"/>
<path d="M37.5 208.5 h5 M637.5 208.5 h-5"/>
<path d="M37.5 143.5 h5 M637.5 143.5 h-5"/>
<path d="M37.5 78.5 h5 M637.5 78.5 h-5"/>
<path d="M37.5 13.5 h5 M637.5 13.5 h-5"/>
</g>
</g>
<g fill="none" stroke="#5a5a5a" stroke-width="0.8" stroke-linecap="round" stroke-linejoin="round">
<g transform="translate(27.80 476.50)"><path d="M0.2 3.7 H4.8"/></g><g transform="translate(35.00 476.50)"><path d="M0.8 1.6 L2.6 0.3 V6.9 M0.6 6.9 H4.6"/></g><g transform="translate(42.20 476.50)"><ellipse cx="2.5" cy="3.6" rx="2.1" ry="3.3"/></g>
<g transform="translate(181.40 476.50)"><path d="M0.2 3.7 H4.8"/></g><g transform="translate(188.60 476.50)"><path d="M4.3 0.4 H1.1 L0.9 3.2 C1.5 2.7 2.1 2.5 2.7 2.5 C3.9 2.5 4.6 3.5 4.6 4.7 C4.6 6.0 3.7 6.95 2.4 6.95 C1.4 6.95 0.7 6.5 0.4 5.9"/></g>
<g transform="translate(335.00 476.50)"><ellipse cx="2.5" cy="3.6" rx="2.1" ry="3.3"/></g>
<g transform="translate(485.00 476.50)"><path d="M4.3 0.4 H1.1 L0.9 3.2 C1.5 2.7 2.1 2.5 2.7 2.5 C3.9 2.5 4.6 3.5 4.6 4.7 C4.6 6.0 3.7 6.95 2.4 6.95 C1.4 6.95 0.7 6.5 0.4 5.9"/></g>
<g transform="translate(631.40 476.50)"><path d="M0.8 1.6 L2.6 0.3 V6.9 M0.6 6.9 H4.6"/></g><g transform="translate(638.60 476.50)"><ellipse cx="2.5" cy="3.6" rx="2.1" ry="3.3"/></g>
<g transform="translate(17.80 465.30)"><path d="M0.2 3.7 H4.8"/></g><g transform="translate(25.00 465.30)"><path d="M4.4 0.5 C2.2 0.4 0.55 2.3 0.55 4.6 C0.55 6.0 1.4 6.95 2.6 6.95 C3.8 6.95 4.55 6.0 4.55 4.8 C4.55 3.6 3.8 2.8 2.7 2.8 C1.6 2.8 0.8 3.6 0.55 4.6"/></g>
<g transform="translate(17.80 400.30)"><path d="M0.2 3.7 H4.8"/></g><g transform="translate(25.00 400.30)"><path d="M3.5 6.9 V0.4 L0.4 4.9 H4.7 M2.4 6.9 H4.5"/></g>
<g transform="translate(17.80 335.30)"><path d="M0.2 3.7 H4.8"/></g><g transform="translate(25.00 335.30)"><path d="M0.5 2.1 C0.5 0.9 1.4 0.3 2.5 0.3 C3.7 0.3 4.5 1.0 4.5 2.1 C4.5 3.3 3.2 4.3 0.4 6.9 H4.7 V6.3"/></g>
<g transform="translate(25.00 270.30)"><ellipse cx="2.5" cy="3.6" rx="2.1" ry="3.3"/></g>
<g transform="translate(25.00 205.30)"><path d="M0.5 2.1 C0.5 0.9 1.4 0.3 2.5 0.3 C3.7 0.3 4.5 1.0 4.5 2.1 C4.5 3.3 3.2 4.3 0.4 6.9 H4.7 V6.3"/></g>
<g transform="translate(25.00 140.30)"><path d="M3.5 6.9 V0.4 L0.4 4.9 H4.7 M2.4 6.9 H4.5"/></g>
<g transform="translate(25.00 75.30)"><path d="M4.4 0.5 C2.2 0.4 0.55 2.3 0.55 4.6 C0.55 6.0 1.4 6.95 2.6 6.95 C3.8 6.95 4.55 6.0 4.55 4.8 C4.55 3.6 3.8 2.8 2.7 2.8 C1.6 2.8 0.8 3.6 0.55 4.6"/></g>
<g transform="translate(25.00 10.30)"><ellipse cx="2.5" cy="1.95" rx="1.75" ry="1.65"/><ellipse cx="2.5" cy="5.25" rx="2.05" ry="1.7"/></g>
</g>
</svg>
</body></html>
